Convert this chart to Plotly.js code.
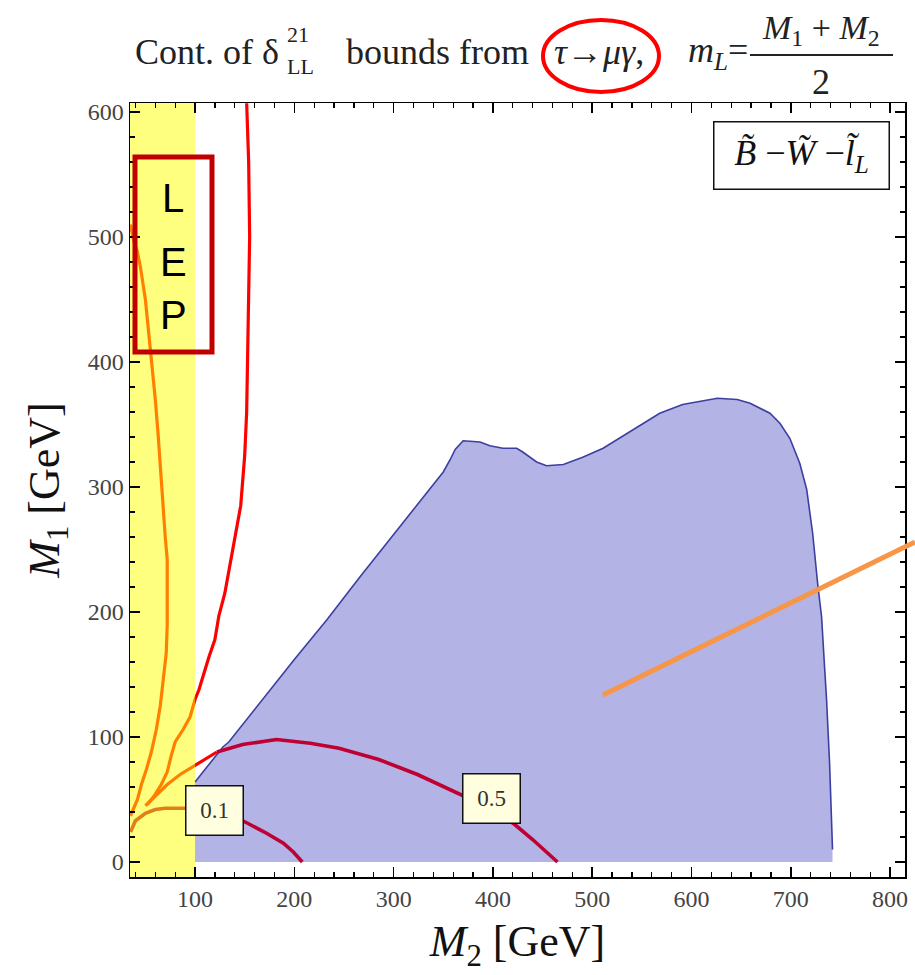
<!DOCTYPE html>
<html><head><meta charset="utf-8">
<script src="https://cdn.plot.ly/plotly-3.0.1.min.js"></script>
<style>html,body{margin:0;padding:0;background:#fff}</style>
</head><body><div id="chart" style="width:915px;height:975px"></div>
<script>
// ---- data (M2, M1 in GeV) ----
const lepLimitM2 = 100;

const blueEdgeM2 = [100,128,134,160,200,233,266,300,330,350,357,362,370,387,397,410,424,430,444,454,471,491,511,535,568,591,626,646,659,679,689,699,709,716,722,727,731,734,736,739,741,742];
const blueEdgeM1 = [64,92,96,122,162,194,228,262,292,312,322,330,337,336,333,331,331,328,320,317,318,324,331,343,359,366,371,370,367,359,351,339,319,298,263,223,196,156,130,80,40,10];

const redMainM2 = [152,154,155,154,153,152,150,148,146,143,140,135,130,124,120,114,109,104,100,95,88,80,76,72,66,58,52];
const redMainM1 = [607,560,500,450,400,360,325,300,285,272,258,236,215,197,178,164,150,138,130,116,106,96,85,72,62,52,46];

const redLeftM2 = [35,38,42,45,50,54,56,58,60,63,65,67,70,72,72,72,71,68,65,61,56,51,46,42,38,35];
const redLeftM1 = [510,498,488,476,450,420,400,386,370,340,316,290,260,242,220,190,167,146,125,106,88,74,62,50,42,37];

const redLowM2 = [50,60,72,85,100,110,122];
const redLowM1 = [45,53,62,70,77,82,88];

const c05M2 = [122,148,182,206,216,245,285,324,367,400,422,440,465];
const c05M1 = [88,94,98,96,95,91,82,70,54,42,30,18,0];

const c01M2 = [35,40,50,60,70,85,100,120,140,153,172,189,199,208];
const c01M1 = [24,33,39,42,43,43,43,40,36,31,23,15,8,0];

const contourLabels = ['0.1','0.5'];
const labelM2 = [120, 399];
const labelM1 = [41, 51];

const xTickVals = [100,200,300,400,500,600,700,800];
const yTickVals = [0,100,200,300,400,500,600];

// ---- traces ----
const fillX = blueEdgeM2.concat([742, 100]);
const fillY = blueEdgeM1.concat([0, 0]);

const traces = [
  {x: fillX, y: fillY, type:'scatter', mode:'lines', fill:'toself', fillcolor:'#B3B3E6', line:{width:0}, hoverinfo:'skip'},
  {x: blueEdgeM2, y: blueEdgeM1, type:'scatter', mode:'lines', line:{color:'#3C3FA0', width:1.6}, hoverinfo:'skip'},
  {x: redMainM2, y: redMainM1, type:'scatter', mode:'lines', line:{color:'#FF0000', width:3.2}, hoverinfo:'skip'},
  {x: redLeftM2, y: redLeftM1, type:'scatter', mode:'lines', line:{color:'#FF0000', width:3.2}, hoverinfo:'skip'},
  {x: redLowM2, y: redLowM1, type:'scatter', mode:'lines', line:{color:'#FF0000', width:3.2}, hoverinfo:'skip'},
  {x: c05M2, y: c05M1, type:'scatter', mode:'lines', line:{color:'#BE0032', width:3.6}, hoverinfo:'skip'},
  {x: c01M2, y: c01M1, type:'scatter', mode:'lines', line:{color:'#BE0032', width:3.6}, hoverinfo:'skip'},
  {x: [0, lepLimitM2, lepLimitM2, 0], y: [-100, -100, 800, 800], type:'scatter', mode:'lines', fill:'toself',
   fillcolor:'rgba(255,255,0,0.5)', line:{width:0}, hoverinfo:'skip'}
];

// px -> paper helpers for decorations
const L=130, R=905, T=103, B=877;
const px = v => (v-L)/(R-L);
const py = v => (B-v)/(B-T);

const serif = 'Liberation Serif, Times New Roman, serif';
const ann = [];
contourLabels.forEach((t,i)=>ann.push({x:labelM2[i], y:labelM1[i], xref:'x', yref:'y', xanchor:'center', yanchor:'middle', text:t, showarrow:false,
  font:{family:serif, size:23, color:'#333'}, bgcolor:'#FFFFE0', bordercolor:'#111', borderwidth:1.5, width:56, height:48, borderpad:0}));

// legend box
ann.push({x:px(801), y:py(155), xref:'paper', yref:'paper', xanchor:'center', yanchor:'middle', showarrow:false,
  text:'<i>B\u0303</i> \u2212<i>W\u0303</i> \u2212<i>l\u0303</i><sub><i>L</i></sub>',
  font:{family:serif, size:36, color:'#111'}, bgcolor:'#fff', bordercolor:'#111', borderwidth:1.5, width:174, height:66, borderpad:0});

// LEP letters
[['L',198],['E',262],['P',315]].forEach(([t,y])=>ann.push({x:px(173), y:py(y), xref:'paper', yref:'paper', xanchor:'center', yanchor:'middle', showarrow:false,
  text:t, font:{family:'Liberation Sans, Arial, sans-serif', size:40, color:'#000'}}));

// title pieces
const tf = {family:serif, size:36, color:'#222'};
const tann = (x,y,xa,text,font)=>ann.push({x:px(x), y:py(y), xref:'paper', yref:'paper', xanchor:xa, yanchor:'middle', showarrow:false, text:text, font:font});
tann(281, 52, 'right', 'Cont. of \u03B4', tf);
tann(285, 34, 'left', '21', {family:serif, size:22, color:'#222'});
tann(285, 66, 'left', 'LL', {family:serif, size:22, color:'#222'});
tann(344, 52, 'left', 'bounds from', tf);
tann(552, 52, 'left', '<i>\u03C4</i>\u2192<i>\u03BC\u03B3</i>,', tf);
tann(750, 52, 'right', '<i>m</i><sub><i>L</i></sub>=', tf);
tann(821, 30, 'center', '<i>M</i><sub>1</sub> + <i>M</i><sub>2</sub>', {family:serif, size:34, color:'#222'});
tann(821, 82, 'center', '2', tf);

const shapes = [
  {type:'line', xref:'paper', yref:'paper', x0:px(750), x1:px(893), y0:py(55), y1:py(55), line:{color:'#222', width:2}},
  {type:'circle', xref:'paper', yref:'paper', x0:px(543), x1:px(659), y0:py(92), y1:py(20), line:{color:'#FF0000', width:4}},
  {type:'rect', xref:'paper', yref:'paper', x0:px(135), x1:px(212), y0:py(352), y1:py(157), line:{color:'#C00000', width:5}},
  {type:'line', xref:'paper', yref:'paper', x0:px(603), y0:py(695), x1:px(915), y1:py(542), line:{color:'#F79646', width:5}}
];

const axisCommon = {
  ticks:'inside', ticklen:10, tickwidth:1.5, tickcolor:'#000',
  showline:true, linecolor:'#000', linewidth:1.5, mirror:'ticks',
  showgrid:false, zeroline:false,
  tickfont:{family:serif, size:24, color:'#444'},
  minor:{dtick:20, tick0:0, ticks:'inside', ticklen:5, tickwidth:1.2, tickcolor:'#000', showgrid:false}
};

const layout = {
  width:915, height:975, paper_bgcolor:'#fff', plot_bgcolor:'#fff', showlegend:false,
  margin:{l:L, r:915-R, t:T, b:975-B},
  xaxis: Object.assign({}, axisCommon, {range:[34.5, 815], tickvals:xTickVals, ticktext:xTickVals.map(String),
    title:{text:'<i>M</i><sub>2</sub> [GeV]', font:{family:serif, size:44, color:'#111'}, standoff:14}}),
  yaxis: Object.assign({}, axisCommon, {range:[-12, 607.2], tickvals:yTickVals, ticktext:yTickVals.map(String),
    title:{text:'<i>M</i><sub>1</sub> [GeV]', font:{family:serif, size:44, color:'#111'}, standoff:14}}),
  annotations: ann, shapes: shapes
};

Plotly.newPlot('chart', traces, layout, {displayModeBar:false, staticPlot:true});
</script></body></html>
